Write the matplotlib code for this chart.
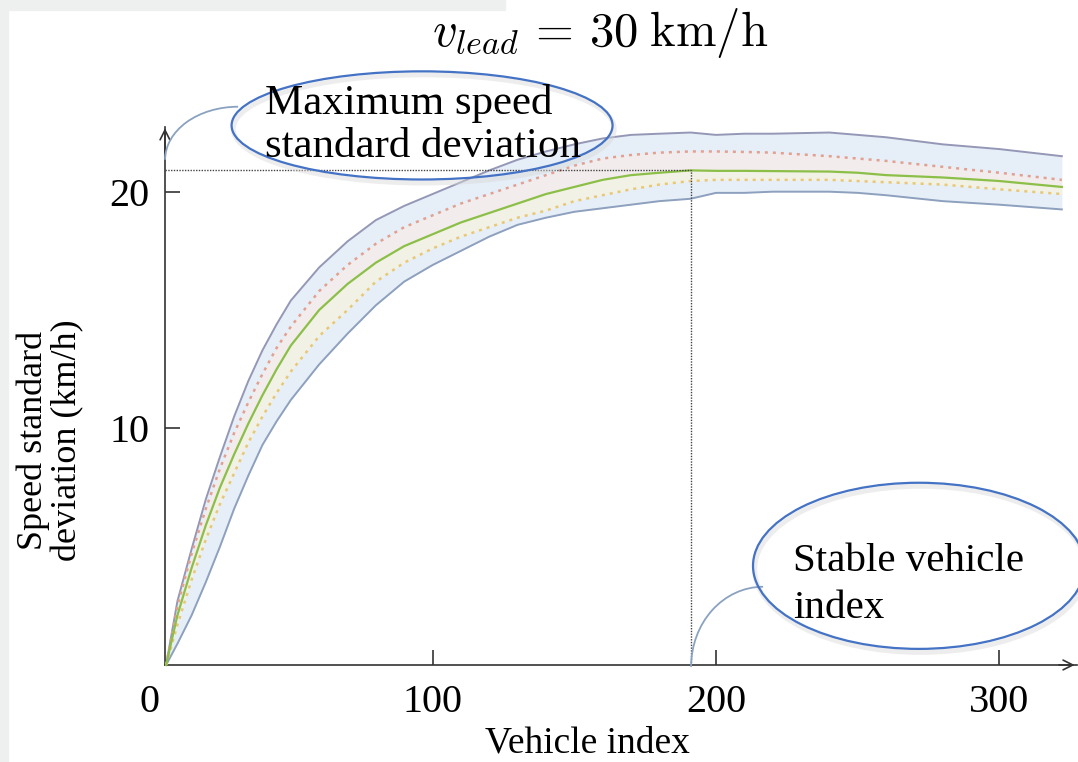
import numpy as np
import matplotlib
matplotlib.use("Agg")
import matplotlib.pyplot as plt
from matplotlib.patches import Ellipse, Arc, Rectangle

plt.rcParams['font.family'] = ['Liberation Serif', 'DejaVu Serif']
plt.rcParams['mathtext.fontset'] = 'cm'

# speed standard deviation along the platoon (km/h)
vehicle = [6, 10, 15, 20, 25, 30, 35, 40, 45, 50, 60, 70, 80, 90, 100, 110, 120, 130,
           140, 150, 160, 170, 180, 191, 200, 210, 220, 240, 250, 260, 280, 300, 322]
sd_mean = [0.0, 2.1, 4.1, 5.9, 7.5, 8.9, 10.2, 11.4, 12.5, 13.5, 15.0, 16.1, 17.0, 17.7,
           18.2, 18.7, 19.1, 19.5, 19.9, 20.2, 20.5, 20.7, 20.8, 20.9, 20.88, 20.88,
           20.87, 20.85, 20.8, 20.7, 20.6, 20.45, 20.2]
sd_max = [0.0, 2.7, 4.9, 7.0, 8.8, 10.5, 12.0, 13.3, 14.4, 15.4, 16.8, 17.9, 18.8, 19.4,
          19.9, 20.4, 20.9, 21.35, 21.7, 22.0, 22.25, 22.4, 22.45, 22.5, 22.4, 22.45,
          22.45, 22.5, 22.4, 22.3, 22.0, 21.8, 21.5]
sd_min = [0.0, 0.9, 2.1, 3.5, 5.0, 6.6, 8.0, 9.3, 10.3, 11.2, 12.7, 14.0, 15.2, 16.2,
          16.9, 17.5, 18.1, 18.6, 18.9, 19.15, 19.3, 19.45, 19.6, 19.7, 19.95, 19.95,
          20.0, 20.0, 19.95, 19.85, 19.6, 19.45, 19.25]
sd_hi = [0.0, 2.5, 4.7, 6.6, 8.3, 9.8, 11.1, 12.3, 13.4, 14.3, 15.8, 16.9, 17.8, 18.5,
         19.0, 19.5, 19.9, 20.3, 20.7, 21.1, 21.4, 21.55, 21.65, 21.7, 21.7, 21.68,
         21.65, 21.5, 21.4, 21.3, 21.05, 20.8, 20.5]
sd_lo = [0.0, 1.7, 3.6, 5.3, 6.8, 8.1, 9.4, 10.5, 11.5, 12.4, 13.9, 15.0, 16.2, 17.0,
         17.6, 18.1, 18.5, 18.9, 19.2, 19.6, 19.85, 20.1, 20.3, 20.45, 20.5, 20.5,
         20.5, 20.5, 20.45, 20.4, 20.3, 20.1, 19.9]

x = np.array(vehicle)
ymean = np.array(sd_mean)
imax = int(np.argmax(ymean))

fig = plt.figure(figsize=(10.78, 7.62), dpi=100)
ax = fig.add_axes([0, 0, 1, 1])
ax.set_xlim(-52.6, 327.7)
ax.set_ylim(-4.1, 28.1)
ax.patch.set_alpha(0)

# frame strips along the border
fig.patches.append(Rectangle((0, 0), 8 / 1078, 1, transform=fig.transFigure,
                             color='#eef0ef', zorder=0))
fig.patches.append(Rectangle((0, 1 - 10 / 762), 505 / 1078, 10 / 762,
                             transform=fig.transFigure, color='#eef0ef', zorder=0))

# band + statistics
ax.fill_between(x, sd_min, sd_max, color='#e6eef7', lw=0, zorder=1)
ax.fill_between(x, sd_mean, sd_hi, color='#f8ede8', lw=0, zorder=1, alpha=0.7)
ax.fill_between(x, sd_lo, sd_mean, color='#f8f3e0', lw=0, zorder=1, alpha=0.7)
ax.plot(x, sd_max, color='#9497b5', lw=1.4, zorder=2)
ax.plot(x, sd_min, color='#8da0be', lw=1.4, zorder=2)
ax.plot(x, sd_hi, color='#e2a091', lw=1.8, ls=(0, (1.2, 2.0)), zorder=3)
ax.plot(x, sd_lo, color='#e6c878', lw=1.8, ls=(0, (1.2, 2.0)), zorder=3)
ax.plot(x, sd_mean, color='#8cbf48', lw=1.6, zorder=4)

# maximum marker lines
x0 = 5.6
ax.plot([x0, x[imax]], [ymean[imax], ymean[imax]], color='#444444', lw=1.0,
        ls=(0, (1, 1)), zorder=5)
ax.plot([x[imax], x[imax]], [0, ymean[imax]], color='#444444', lw=1.0,
        ls=(0, (1, 1)), zorder=5)

# axes with arrows
for side in ['top', 'right']:
    ax.spines[side].set_visible(False)
ax.spines['left'].set_position(('data', x0))
ax.spines['bottom'].set_position(('data', 0))
ax.spines['left'].set_bounds(0, 22.75)
ax.spines['bottom'].set_bounds(x0, 327.2)
for side in ['left', 'bottom']:
    ax.spines[side].set_color('#333333')
    ax.spines[side].set_linewidth(1.2)
ax.annotate('', xy=(x0, 22.8), xytext=(x0, 21.5),
            arrowprops=dict(arrowstyle='->,head_length=0.7,head_width=0.35',
                            lw=1.2, color='#333333'), annotation_clip=False)
ax.annotate('', xy=(327.5, 0), xytext=(320, 0),
            arrowprops=dict(arrowstyle='->,head_length=0.7,head_width=0.35',
                            lw=1.2, color='#333333'), annotation_clip=False)

ax.set_xticks([0, 100, 200, 300])
ax.set_xticklabels(['0', '100', '200', '300'])
ax.set_yticks([10, 20])
ax.set_yticklabels(['10', '20'])
ax.tick_params(axis='both', direction='in', length=11, width=1.2,
               colors='#333333', labelsize=29, labelcolor='black')
ax.tick_params(axis='x', pad=14)
ax.tick_params(axis='y', pad=11)
ax.xaxis.get_major_ticks()[0].tick1line.set_visible(False)

ax.text(154.5, -3.3, 'Vehicle index', fontsize=27, ha='center', va='center')
ax.text(-34.9, 9.5, 'Speed standard\ndeviation (km/h)', fontsize=26,
        rotation=90, ha='center', va='center', multialignment='center',
        linespacing=1.05)
ax.text(159.1, 26.7, r'$v_{lead}\,=\,30\;\mathrm{km/h}$', fontsize=35,
        ha='center', va='center')

# callouts
blue = '#4472c4'
for cx, cy, w, h in [(96.3, 22.8, 134.4, 4.57), (271.6, 4.19, 117.1, 7.02)]:
    ax.add_patch(Ellipse((cx + 0.6, cy - 0.15), w, h, fill=False,
                         ec='#d8d8d8', lw=3.5, alpha=0.45, zorder=6, clip_on=False))
    ax.add_patch(Ellipse((cx, cy), w, h, fill=False, ec=blue, lw=1.6,
                         zorder=7, clip_on=False))
ax.text(40.9, 22.83, 'Maximum speed\nstandard deviation', fontsize=31,
        ha='left', va='center', linespacing=1.15, zorder=8)
ax.text(227.2, 3.38, 'Stable vehicle\nindex', fontsize=29.5,
        ha='left', va='center', linespacing=1.35, zorder=8)

ax.add_patch(Arc((31.4, 21.35), 51.5, 4.48, theta1=90, theta2=180,
                 color='#8aa2c0', lw=1.3, zorder=6))
ax.add_patch(Arc((216.6, -0.08), 50.8, 6.77, theta1=90, theta2=180,
                 color='#8aa2c0', lw=1.3, zorder=6))

fig.savefig('out.png', dpi=100)
